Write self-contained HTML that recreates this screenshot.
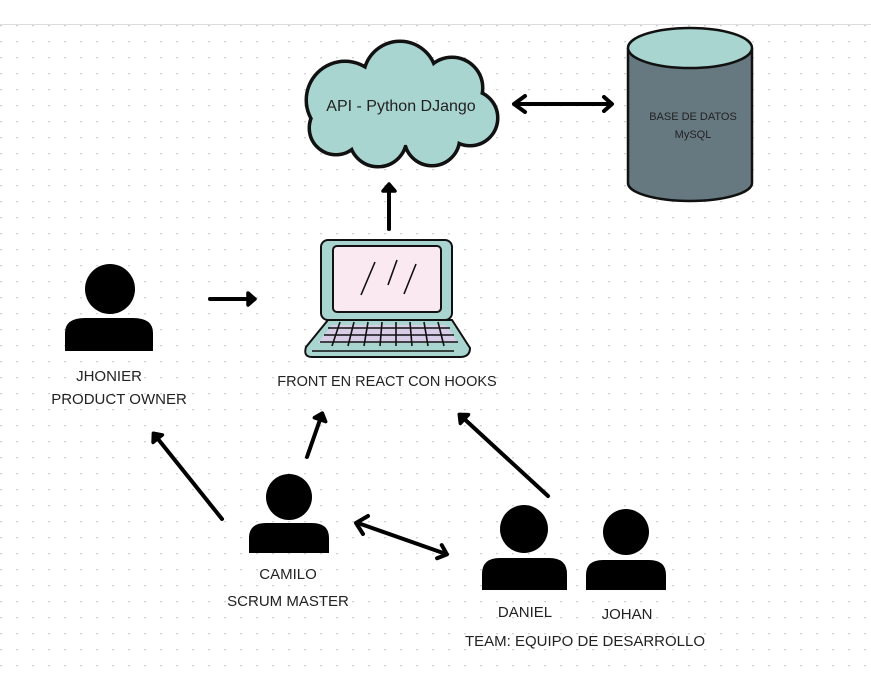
<!DOCTYPE html>
<html><head><meta charset="utf-8"><style>
html,body{margin:0;padding:0;background:#fff;}
body{width:871px;height:678px;overflow:hidden;}
svg{display:block;}
text{font-family:"Liberation Sans",sans-serif;fill:#222;}
</style></head><body>
<svg width="871" height="678" viewBox="0 0 871 678" xmlns="http://www.w3.org/2000/svg">
<defs>
<pattern id="dots" x="0" y="25" width="16" height="16" patternUnits="userSpaceOnUse">
<circle cx="1" cy="0.5" r="1" fill="#cfcfcf"/>
</pattern>
<marker id="ah" markerWidth="16" markerHeight="16" refX="9" refY="8" orient="auto" markerUnits="userSpaceOnUse" viewBox="0 0 16 16">
<path d="M3,2 L10,8 L3,14 Z" fill="#000" stroke="#000" stroke-width="3.5" stroke-linecap="round" stroke-linejoin="round"/>
</marker>
<marker id="ahc" markerWidth="18" markerHeight="18" refX="10" refY="9" orient="auto" markerUnits="userSpaceOnUse" viewBox="0 0 18 18">
<path d="M3,2 L11,9 L3,16" fill="none" stroke="#000" stroke-width="4" stroke-linecap="round" stroke-linejoin="round"/>
</marker>
</defs>
<rect x="0" y="0" width="871" height="678" fill="#fff"/>
<rect x="0" y="25" width="871" height="653" fill="url(#dots)"/>
<line x1="0" y1="24.5" x2="871" y2="24.5" stroke="#ddd" stroke-width="1"/>

<!-- cloud -->
<g stroke="#111" stroke-width="5" fill="#a8d5cf">
<circle cx="345" cy="100" r="38"/><circle cx="400" cy="78" r="36"/><circle cx="452" cy="88" r="30"/>
<circle cx="470" cy="118" r="27"/><circle cx="432" cy="138" r="27"/><circle cx="378" cy="138" r="28"/><circle cx="336" cy="128" r="26"/>
</g>
<g fill="#a8d5cf">
<circle cx="345" cy="100" r="37"/><circle cx="400" cy="78" r="35"/><circle cx="452" cy="88" r="29"/>
<circle cx="470" cy="118" r="26"/><circle cx="432" cy="138" r="26"/><circle cx="378" cy="138" r="27"/><circle cx="336" cy="128" r="25"/>
<ellipse cx="400" cy="110" rx="70" ry="35"/>
</g>
<text x="401" y="111" font-size="16" text-anchor="middle">API - Python DJango</text>

<!-- cylinder -->
<path d="M628,48 L628,183 A62,18 0 0 0 752,183 L752,48" fill="#667880" stroke="#111" stroke-width="2.5"/>
<ellipse cx="690" cy="48" rx="62" ry="20" fill="#a8d5cf" stroke="#111" stroke-width="2.5"/>
<text x="693" y="120" font-size="11" text-anchor="middle">BASE DE DATOS</text>
<text x="693" y="138" font-size="11" text-anchor="middle">MySQL</text>

<!-- laptop -->
<path d="M328,320 L452,320 L470,348 Q470,357 460,357 L312,357 Q303,357 306,347 Z" fill="#a8d5cf" stroke="#111" stroke-width="2"/>
<path d="M332,325 L446,325 L458,343 L318,343 Z" fill="#d7cde6"/>
<rect x="321" y="240" width="131" height="80" rx="7" fill="#a8d5cf" stroke="#111" stroke-width="2"/>
<rect x="333" y="246" width="108" height="66" rx="4" fill="#fbe9f2" stroke="#111" stroke-width="2"/>
<g stroke="#111" stroke-width="1.6">
<line x1="375" y1="262" x2="361" y2="295"/><line x1="397" y1="260" x2="388" y2="285"/><line x1="416" y1="264" x2="404" y2="294"/>
<line x1="328" y1="328" x2="450" y2="328"/><line x1="324" y1="335" x2="454" y2="335"/><line x1="320" y1="342" x2="458" y2="342"/>
<line x1="340" y1="322" x2="332" y2="346"/><line x1="354" y1="322" x2="348" y2="346"/><line x1="368" y1="322" x2="364" y2="346"/>
<line x1="382" y1="322" x2="380" y2="346"/><line x1="396" y1="322" x2="396" y2="346"/><line x1="410" y1="322" x2="412" y2="346"/>
<line x1="424" y1="322" x2="428" y2="346"/><line x1="438" y1="322" x2="444" y2="346"/>
<line x1="312" y1="351" x2="454" y2="351"/>
</g>
<text x="387" y="386" font-size="14.5" text-anchor="middle">FRONT EN REACT CON HOOKS</text>

<!-- people -->
<g fill="#000">
<circle cx="110" cy="289" r="25"/><path d="M65,351 L65,333 Q65,318 85,318 L133,318 Q153,318 153,333 L153,351 Z"/>
<circle cx="289" cy="497" r="23"/><path d="M249,553 L249,538 Q249,523 266,523 L312,523 Q329,523 329,538 L329,553 Z"/>
<circle cx="524" cy="529" r="24"/><path d="M482,590 L482,574 Q482,558 500,558 L549,558 Q567,558 567,574 L567,590 Z"/>
<circle cx="626" cy="532" r="23"/><path d="M586,590 L586,575 Q586,560 603,560 L649,560 Q666,560 666,575 L666,590 Z"/>
</g>
<text x="109" y="381" font-size="15" text-anchor="middle">JHONIER</text>
<text x="119" y="404" font-size="15" text-anchor="middle">PRODUCT OWNER</text>
<text x="288" y="579" font-size="15" text-anchor="middle">CAMILO</text>
<text x="288" y="606" font-size="15" text-anchor="middle">SCRUM MASTER</text>
<text x="525" y="617" font-size="15" text-anchor="middle">DANIEL</text>
<text x="627" y="619" font-size="15" text-anchor="middle">JOHAN</text>
<text x="585" y="646" font-size="15" text-anchor="middle">TEAM: EQUIPO DE DESARROLLO</text>

<!-- arrows -->
<g stroke="#000" stroke-width="4" fill="none" stroke-linecap="round">
<line x1="210" y1="299" x2="254" y2="299" marker-end="url(#ah)"/>
<line x1="389" y1="229" x2="389" y2="185" marker-end="url(#ah)"/>
<line x1="517" y1="104" x2="611" y2="104" marker-end="url(#ahc)"/>
<line x1="222" y1="519" x2="154" y2="434" marker-end="url(#ah)"/>
<line x1="307" y1="457" x2="322" y2="414" marker-end="url(#ah)"/>
<line x1="548" y1="496" x2="460" y2="415" marker-end="url(#ah)"/>
<line x1="358" y1="523" x2="446" y2="554" marker-end="url(#ahc)"/>
</g>
<g stroke="#000" stroke-width="4" fill="none" stroke-linecap="round" stroke-linejoin="round">
<path d="M525,96 L514,104 L525,112"/>
<path d="M368,516 L356,523 L363,534"/>
</g>
</svg>
</body></html>
